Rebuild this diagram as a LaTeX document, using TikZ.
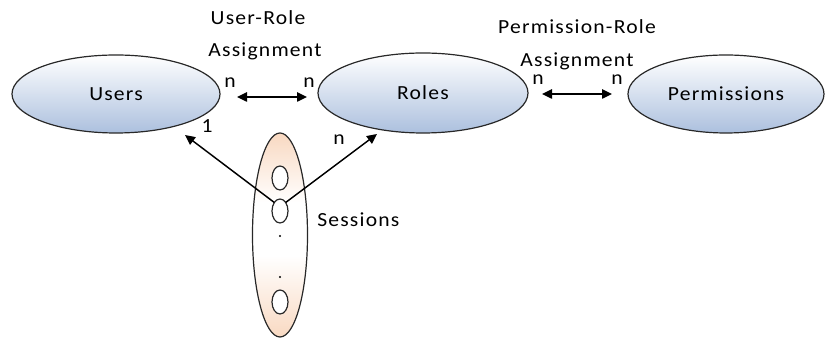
\documentclass[tikz,border=0pt]{standalone}
\usepackage{fontspec}
\setmainfont{Carlito}[LetterSpace=6,FakeStretch=1.08]
\usetikzlibrary{arrows.meta,shapes.geometric}
\definecolor{rolesteel}{RGB}{172,192,222}
\definecolor{sessorange}{RGB}{245,196,160}
\definecolor{rimgray}{RGB}{40,40,40}
% sessions fill: orange at both ends, white towards the lower middle
\pgfdeclareverticalshading{sessshade}{100bp}{color(0bp)=(sessorange); color(20bp)=(sessorange!80!white);
  color(45bp)=(white); color(58bp)=(white); color(80bp)=(sessorange!85!white); color(100bp)=(sessorange)}
\tikzset{
  txt/.style={font=\fontsize{15}{18}\selectfont},
  entity/.style={ellipse,draw=rimgray,line width=0.9pt,inner sep=0pt,outer sep=0pt,
    top color=white,middle color=white,bottom color=rolesteel,txt},
  sessbox/.style={ellipse,draw=rimgray,line width=0.9pt,inner sep=0pt,outer sep=0pt,
    shading=sessshade,minimum width=41.25pt,minimum height=153pt},
  sess/.style={ellipse,draw=rimgray,line width=0.9pt,fill=white,inner sep=0pt,outer sep=0pt,
    minimum width=12pt,minimum height=18pt},
  lbl/.style={txt,inner sep=0pt},
  link/.style={line width=1.1pt,black},
  twoway/.style={link,{Triangle[length=7.5pt,width=7pt]}-{Triangle[length=7.5pt,width=7pt]}},
  oneway/.style={link,-{Triangle[length=7.5pt,width=7pt]}}
}
\begin{document}
\begin{tikzpicture}[x=0.75pt,y=-0.75pt]
  \useasboundingbox (0,0) rectangle (826,341);

  % the three entity sets
  \node[entity,minimum width=156pt,minimum height=58.5pt] (users) at (116,94) {Users};
  \node[entity,minimum width=157.5pt,minimum height=60pt] (roles) at (423,93) {Roles};
  \node[entity,minimum width=147pt,minimum height=58.5pt] (perms) at (726,94) {Permissions};

  % sessions container with its individual sessions
  \node[sessbox] (sessions) at (280,235) {};
  \node[sess] (s1) at (280,178) {};
  \node[sess] (s2) at (280,211) {};
  \node[sess] (s3) at (280,302) {};
  \node[circle,fill=black,inner sep=0pt,minimum size=1.6pt] (d1) at (280,236) {};
  \node[circle,fill=black,inner sep=0pt,minimum size=1.6pt] (d2) at (280,277) {};
  \node[lbl,anchor=west] (sesslbl) at (317,220) {Sessions};

  % assignment relations
  \coordinate (ur1) at (237,97);
  \coordinate (ur2) at (307,97);
  \draw[twoway] (ur1) -- (ur2);
  \coordinate (pr1) at (542,94);
  \coordinate (pr2) at (612,94);
  \draw[twoway] (pr1) -- (pr2);

  \node[lbl] (urt1) at (258,18) {User-Role};
  \node[lbl] (urt2) at (265,51) {Assignment};
  \node[lbl] (prt1) at (577,27) {Permission-Role};
  \node[lbl] (prt2) at (577,61) {Assignment};

  \node[lbl] (n1) at (230,83) {n};
  \node[lbl] (n2) at (309,83) {n};
  \node[lbl] (n3) at (538,80) {n};
  \node[lbl] (n4) at (617,80) {n};

  % session to user / role links
  \coordinate (ut) at (185,135);
  \coordinate (rt) at (377,134);
  \draw[oneway] (s2.north west) -- (ut);
  \draw[oneway] (s2.north east) -- (rt);
  \node[lbl] (one) at (207,126) {1};
  \node[lbl] (n5) at (339,140) {n};
\end{tikzpicture}
\end{document}
